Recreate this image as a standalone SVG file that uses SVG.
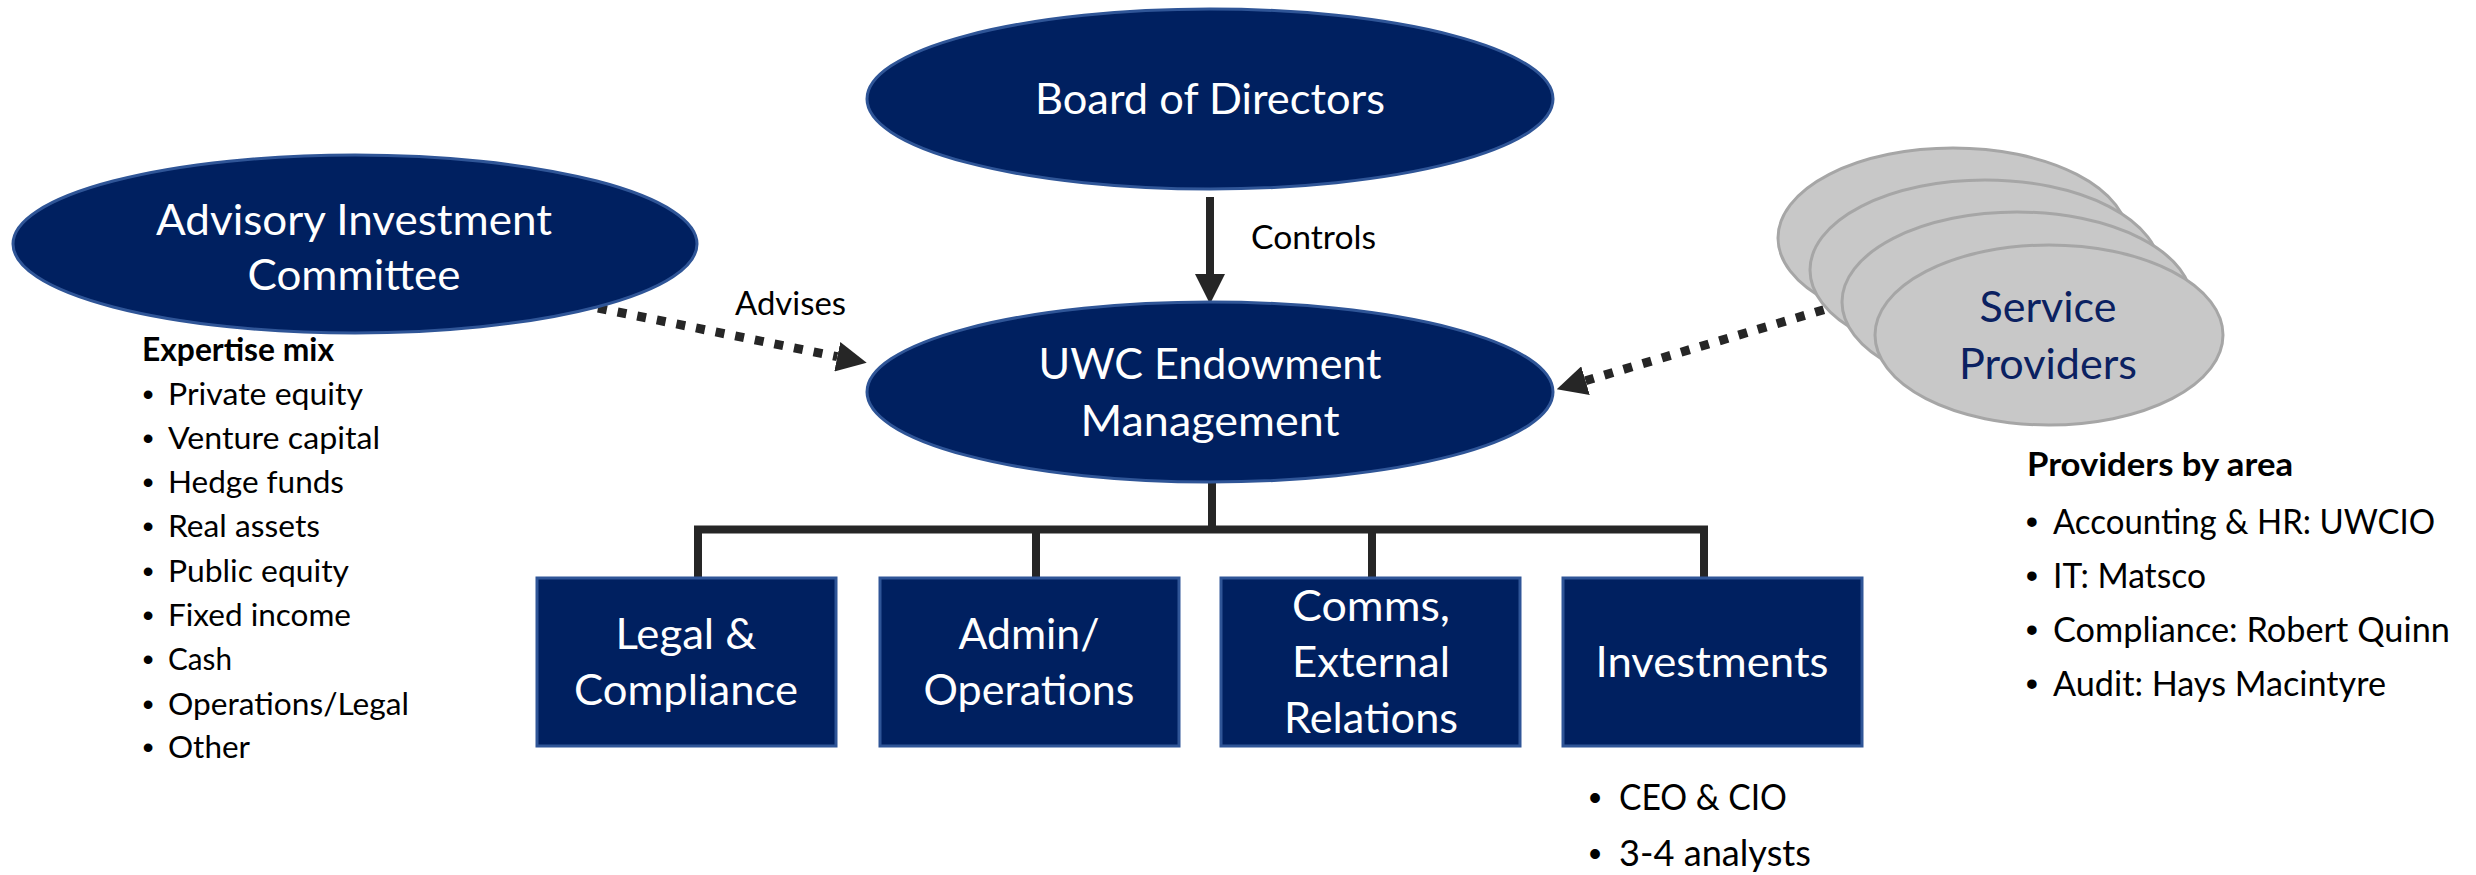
<svg xmlns="http://www.w3.org/2000/svg" width="2476" height="875" viewBox="0 0 2476 875">
  <style>
    .navy { fill: #002060; stroke: #2f5597; stroke-width: 3; }
    .grey { fill: #c8c8c8; stroke: #a6a6a6; stroke-width: 3; }
    .in { font-family: Lato, "Open Sans", "Liberation Sans", sans-serif; font-size: 42px; fill: #ffffff; text-anchor: middle; }
    .sp { font-family: Lato, "Open Sans", "Liberation Sans", sans-serif; font-size: 42px; fill: #0b2161; text-anchor: middle; }
    .lbl { font-family: Lato, "Open Sans", "Liberation Sans", sans-serif; font-size: 32px; fill: #000000; }
    .hd { font-family: Lato, "Open Sans", "Liberation Sans", sans-serif; font-weight: bold; fill: #000000; }
    .li { font-family: Lato, "Open Sans", "Liberation Sans", sans-serif; fill: #000000; }
    .bul { font-family: "Liberation Sans", Arial, sans-serif; fill: #000000; text-anchor: middle; }
    .solid { stroke: #262626; stroke-width: 8; fill: none; }
    .dots { stroke: #262626; stroke-width: 9; stroke-dasharray: 9 11; fill: none; }
  </style>
  <defs>
    <marker id="head" viewBox="0 -15 30 30" refX="0" refY="0" markerWidth="30" markerHeight="30" markerUnits="userSpaceOnUse" orient="auto">
      <path d="M0,-15 L30,0 L0,15 Z" fill="#262626"/>
    </marker>
  </defs>

  <!-- connectors (drawn first so the shapes sit on top of them) -->
  <g id="connectors">
    <!-- Board -> Endowment -->
    <line class="solid" x1="1210" y1="197" x2="1210" y2="274" marker-end="url(#head)"/>
    <text class="lbl" x="1251" y="249" textLength="125" lengthAdjust="spacingAndGlyphs">Controls</text>
    <!-- Advisory -> Endowment -->
    <line class="dots" x1="598" y1="308" x2="837.3" y2="356.7" marker-end="url(#head)"/>
    <text class="lbl" x="735" y="315" textLength="111" lengthAdjust="spacingAndGlyphs">Advises</text>
    <!-- Service providers -> Endowment -->
    <line class="dots" x1="1843" y1="304" x2="1585.5" y2="380.7" marker-end="url(#head)"/>
    <!-- org tree -->
    <line class="solid" x1="1212" y1="480" x2="1212" y2="529"/>
    <line class="solid" x1="694" y1="529.5" x2="1708" y2="529.5" stroke-width="9"/>
    <line class="solid" x1="698" y1="529" x2="698" y2="578"/>
    <line class="solid" x1="1036" y1="529" x2="1036" y2="578"/>
    <line class="solid" x1="1372" y1="529" x2="1372" y2="578"/>
    <line class="solid" x1="1704" y1="529" x2="1704" y2="578"/>
  </g>

  <g id="board">
    <ellipse class="navy" cx="1210" cy="99" rx="343" ry="90"/>
    <text class="in" x="1210" y="114" textLength="350" lengthAdjust="spacingAndGlyphs">Board of Directors</text>
  </g>

  <g id="advisory">
    <ellipse class="navy" cx="355" cy="244" rx="342" ry="89"/>
    <text class="in" x="354" y="235" textLength="396" lengthAdjust="spacingAndGlyphs">Advisory Investment</text>
    <text class="in" x="354" y="290" textLength="213" lengthAdjust="spacingAndGlyphs">Committee</text>
  </g>

  <g id="endowment">
    <ellipse class="navy" cx="1210" cy="392" rx="343" ry="90"/>
    <text class="in" x="1210" y="379" textLength="343" lengthAdjust="spacingAndGlyphs">UWC Endowment</text>
    <text class="in" x="1210" y="436" textLength="259" lengthAdjust="spacingAndGlyphs">Management</text>
  </g>

  <g id="service-providers">
    <ellipse class="grey" cx="1953" cy="238" rx="175" ry="90"/>
    <ellipse class="grey" cx="1985" cy="270" rx="175" ry="90"/>
    <ellipse class="grey" cx="2017" cy="302" rx="175" ry="90"/>
    <ellipse class="grey" cx="2049" cy="335" rx="174" ry="90"/>
    <text class="sp" x="2048" y="322" textLength="137" lengthAdjust="spacingAndGlyphs">Service</text>
    <text class="sp" x="2048" y="379" textLength="178" lengthAdjust="spacingAndGlyphs">Providers</text>
  </g>

  <g id="legal">
    <rect class="navy" x="537" y="578" width="299" height="168"/>
    <text class="in" x="686" y="649" textLength="141" lengthAdjust="spacingAndGlyphs">Legal &amp;</text>
    <text class="in" x="686" y="705" textLength="224" lengthAdjust="spacingAndGlyphs">Compliance</text>
  </g>

  <g id="admin">
    <rect class="navy" x="880" y="578" width="299" height="168"/>
    <text class="in" x="1029" y="649" textLength="141" lengthAdjust="spacingAndGlyphs">Admin/</text>
    <text class="in" x="1029" y="705" textLength="211" lengthAdjust="spacingAndGlyphs">Operations</text>
  </g>

  <g id="comms">
    <rect class="navy" x="1221" y="578" width="299" height="168"/>
    <text class="in" x="1371" y="621" textLength="158" lengthAdjust="spacingAndGlyphs">Comms,</text>
    <text class="in" x="1371" y="677" textLength="158" lengthAdjust="spacingAndGlyphs">External</text>
    <text class="in" x="1371" y="733" textLength="174" lengthAdjust="spacingAndGlyphs">Relations</text>
  </g>

  <g id="investments">
    <rect class="navy" x="1563" y="578" width="299" height="168"/>
    <text class="in" x="1712" y="677" textLength="233" lengthAdjust="spacingAndGlyphs">Investments</text>
  </g>

  <g id="expertise-list">
    <text class="hd" x="142" y="361" font-size="32" textLength="192" lengthAdjust="spacingAndGlyphs">Expertise mix</text>
    <g class="bul" font-size="32">
      <text x="148" y="405">•</text>
      <text x="148" y="449">•</text>
      <text x="148" y="493">•</text>
      <text x="148" y="537">•</text>
      <text x="148" y="582">•</text>
      <text x="148" y="626">•</text>
      <text x="148" y="670">•</text>
      <text x="148" y="715">•</text>
      <text x="148" y="758">•</text>
    </g>
    <g class="li" font-size="31">
      <text x="168" y="405" textLength="195" lengthAdjust="spacingAndGlyphs">Private equity</text>
      <text x="168" y="449" textLength="212" lengthAdjust="spacingAndGlyphs">Venture capital</text>
      <text x="168" y="493" textLength="176" lengthAdjust="spacingAndGlyphs">Hedge funds</text>
      <text x="168" y="537" textLength="152" lengthAdjust="spacingAndGlyphs">Real assets</text>
      <text x="168" y="582" textLength="181" lengthAdjust="spacingAndGlyphs">Public equity</text>
      <text x="168" y="626" textLength="183" lengthAdjust="spacingAndGlyphs">Fixed income</text>
      <text x="168" y="670" textLength="64" lengthAdjust="spacingAndGlyphs">Cash</text>
      <text x="168" y="715" textLength="241" lengthAdjust="spacingAndGlyphs">Operations/Legal</text>
      <text x="168" y="758" textLength="82" lengthAdjust="spacingAndGlyphs">Other</text>
    </g>
  </g>

  <g id="providers-list">
    <text class="hd" x="2027" y="476" font-size="33" textLength="266" lengthAdjust="spacingAndGlyphs">Providers by area</text>
    <g class="bul" font-size="35">
      <text x="2032" y="534">•</text>
      <text x="2032" y="588">•</text>
      <text x="2032" y="642">•</text>
      <text x="2032" y="696">•</text>
    </g>
    <g class="li" font-size="35">
      <text x="2053" y="534" textLength="382" lengthAdjust="spacingAndGlyphs">Accounting &amp; HR: UWCIO</text>
      <text x="2053" y="588" textLength="153" lengthAdjust="spacingAndGlyphs">IT: Matsco</text>
      <text x="2053" y="642" textLength="397" lengthAdjust="spacingAndGlyphs">Compliance: Robert Quinn</text>
      <text x="2053" y="696" textLength="333" lengthAdjust="spacingAndGlyphs">Audit: Hays Macintyre</text>
    </g>
  </g>

  <g id="investments-team">
    <g class="bul" font-size="36">
      <text x="1595" y="810">•</text>
      <text x="1595" y="866">•</text>
    </g>
    <g class="li" font-size="36">
      <text x="1619" y="810" textLength="168" lengthAdjust="spacingAndGlyphs">CEO &amp; CIO</text>
      <text x="1619" y="866" textLength="192" lengthAdjust="spacingAndGlyphs">3-4 analysts</text>
    </g>
  </g>
</svg>
